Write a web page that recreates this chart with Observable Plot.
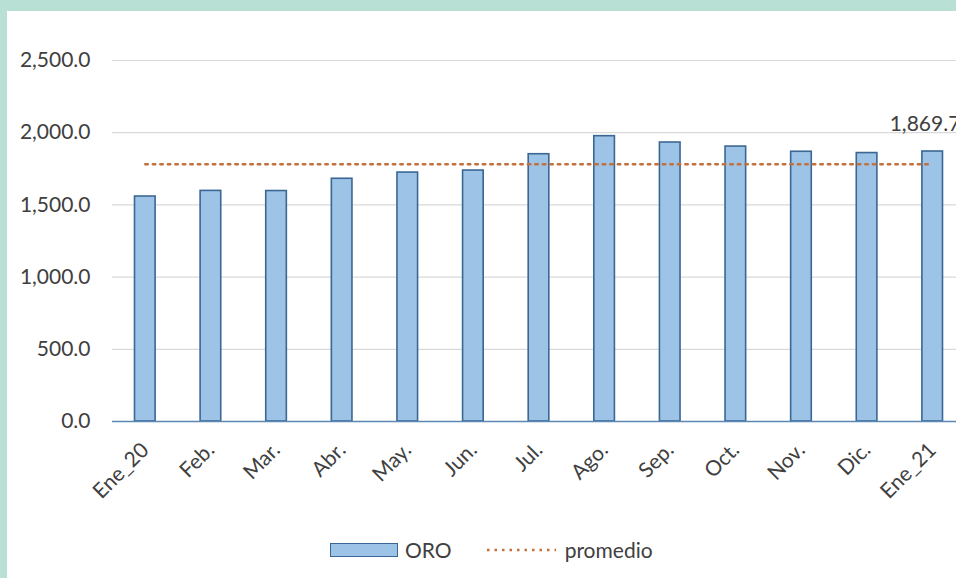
<!DOCTYPE html>
<html><head><meta charset="utf-8">
<script src="https://cdn.jsdelivr.net/npm/d3@7"></script>
<script src="https://cdn.jsdelivr.net/npm/@observablehq/plot@0.6"></script>
<style>
html,body{margin:0;padding:0;width:956px;height:578px;overflow:hidden;background:#fff;font-family:Lato,sans-serif;}
#top{position:absolute;left:0;top:0;width:956px;height:11px;background:#b8e0d4;}
#left{position:absolute;left:0;top:0;width:7px;height:578px;background:#b8e0d4;}
#chart{position:absolute;left:0;top:0;width:970px;}
#chart svg{max-width:none !important;}
#legend{position:absolute;top:539px;left:330px;display:flex;align-items:center;font-size:21px;line-height:22px;color:#404040;}
#legend .sw{width:66px;height:12px;background:#9dc3e6;border:1.5px solid #3a6794;}
</style></head><body>
<div id="chart"></div><div id="top"></div><div id="left"></div>
<div id="legend"><div class="sw"></div><span style="margin-left:7px">ORO</span>
<svg width="70" height="10" style="margin-left:34px"><line x1="1" x2="70" y1="5" y2="5" stroke="#c2703d" stroke-width="2.5" stroke-dasharray="2.5,5"/></svg>
<span style="margin-left:9px">promedio</span></div>
<script>
const months = ["Ene_20","Feb.","Mar.","Abr.","May.","Jun.","Jul.","Ago.","Sep.","Oct.","Nov.","Dic.","Ene_21"];
const oro = [1558,1597,1596,1681,1724,1738,1851,1976,1932,1904,1868,1859,1869.7];
const promedio = [1782,1782,1782,1782,1782,1782,1782,1782,1782,1782,1782,1782,1782];
const yTicks = [0,500,1000,1500,2000,2500];

const data = months.map((m,i)=>({month:m, oro:oro[i], prom:promedio[i]}));
const fmt = d3.format(",.1f");
const chart = Plot.plot({
  width:970, height:530, marginLeft:112, marginRight:5, marginTop:60, marginBottom:109,
  style:{fontFamily:"Lato, sans-serif", fontSize:"21px", color:"#404040", background:"transparent", overflow:"visible", maxWidth:"none"},
  x:{domain:months, padding:0, round:false},
  y:{domain:[0,2500]},
  marks:[
    Plot.gridY(yTicks,{stroke:"#d9d9d9", strokeOpacity:1, strokeWidth:1.2}),
    Plot.barY(data,{x:"month", y:"oro", fill:"#9dc3e6", stroke:"#3a6794", strokeWidth:1.6, insetLeft:22.5, insetRight:22.5}),
    Plot.ruleY([0],{stroke:"#5b87b5", strokeWidth:1.5}),
    Plot.lineY(data,{x:"month", y:"prom", stroke:"#c2703d", strokeWidth:2.5, strokeDasharray:"2.5,5"}),
    Plot.text([data[12]],{x:"month", y:"oro", text:d=>fmt(d.oro), textAnchor:"start", dx:-43, dy:-27, fill:"#404040"}),
    Plot.axisY(yTicks,{tickFormat:fmt, tickSize:0, tickPadding:22, label:null}),
    Plot.axisX({tickRotate:-45, tickSize:0, tickPadding:25, dx:0, label:null})
  ]
});
document.getElementById("chart").append(chart);
</script>
</body></html>
